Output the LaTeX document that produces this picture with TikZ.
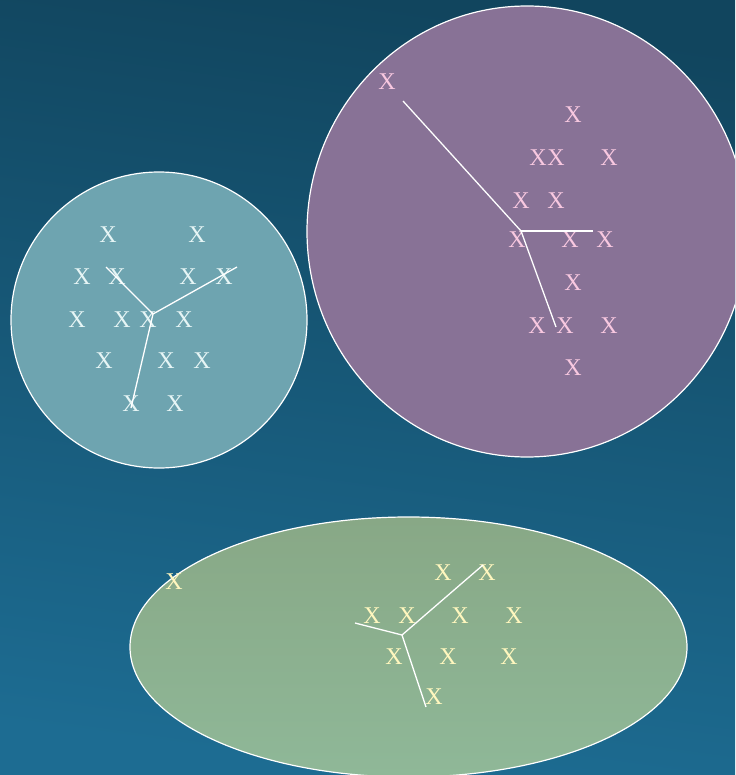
\documentclass[tikz,border=0pt]{standalone}
\usepackage{fontspec}
\setmainfont{Liberation Serif}
\definecolor{bgtop}{RGB}{17,69,94}
\definecolor{bgbot}{RGB}{29,108,146}
\definecolor{tealfill}{RGB}{110,164,176}
\definecolor{purpfill}{RGB}{136,114,150}
\definecolor{greentop}{RGB}{136,168,134}
\definecolor{greenbot}{RGB}{143,184,152}
\definecolor{xteal}{RGB}{230,245,245}
\definecolor{xpink}{RGB}{248,200,224}
\definecolor{xyellow}{RGB}{255,247,190}
\tikzset{
  xmark/.style={inner sep=0pt, font=\fontsize{24}{24}\selectfont},
  xt/.style={xmark, text=xteal},
  xp/.style={xmark, text=xpink},
  xy/.style={xmark, text=xyellow},
  rim/.style={draw=white, line width=1.2pt},
  spoke/.style={draw=white, line width=1.3pt},
}
\begin{document}
\begin{tikzpicture}[x=1pt,y=-1pt]
\useasboundingbox (0,0) rectangle (735,775);
\shade[top color=bgtop, bottom color=bgbot, shading angle=-8] (0,0) rectangle (735,775);
% shapes
\begin{scope}
\clip (0,0) rectangle (735,775);
\path[rim, fill=tealfill] (159,320) circle[radius=148];
\path[rim, fill=purpfill] (527,231.5) ellipse[x radius=220, y radius=225.5];
\shade[top color=greentop, bottom color=greenbot] (408.5,647) ellipse[x radius=278.5, y radius=130];
\path[rim] (408.5,647) ellipse[x radius=278.5, y radius=130];
\end{scope}
% teal cluster
\node[xt] (t1) at (108,235) {X};
\node[xt] (t2) at (197,235) {X};
\node[xt] (t3) at (82,277) {X};
\node[xt] (t4) at (117,277) {X};
\node[xt] (t5) at (188,277) {X};
\node[xt] (t6) at (224,277) {X};
\node[xt] (t7) at (77,320) {X};
\node[xt] (t8) at (122,320) {X};
\node[xt] (t9) at (148,320) {X};
\node[xt] (t10) at (184,320) {X};
\node[xt] (t11) at (104,361) {X};
\node[xt] (t12) at (166,361) {X};
\node[xt] (t13) at (202,361) {X};
\node[xt] (t14) at (131,404) {X};
\node[xt] (t15) at (175,404) {X};
\coordinate (th) at (153,314);
\coordinate (te1) at (106,267);
\coordinate (te2) at (237,267);
\coordinate (te3) at (131,408);
\draw[spoke] (th) -- (te1);
\draw[spoke] (th) -- (te2);
\draw[spoke] (th) -- (te3);
% purple cluster
\node[xp] (p1) at (387,82) {X};
\node[xp] (p2) at (573,115) {X};
\node[xp] (p3) at (538,158) {X};
\node[xp] (p4) at (556,158) {X};
\node[xp] (p5) at (609,158) {X};
\node[xp] (p6) at (521,201) {X};
\node[xp] (p7) at (556,201) {X};
\node[xp] (p8) at (517,240) {X};
\node[xp] (p9) at (570,240) {X};
\node[xp] (p10) at (605,240) {X};
\node[xp] (p11) at (573,283) {X};
\node[xp] (p12) at (537,326) {X};
\node[xp] (p13) at (565,326) {X};
\node[xp] (p14) at (609,326) {X};
\node[xp] (p15) at (573,368) {X};
\coordinate (ph) at (521,231);
\coordinate (pe1) at (403,101);
\coordinate (pe2) at (593,231);
\coordinate (pe3) at (556,327);
\draw[spoke] (ph) -- (pe1);
\draw[spoke] (ph) -- (pe2);
\draw[spoke] (ph) -- (pe3);
% green cluster
\node[xy] (g1) at (174,582) {X};
\node[xy] (g2) at (443,573) {X};
\node[xy] (g3) at (487,573) {X};
\node[xy] (g4) at (372,616) {X};
\node[xy] (g5) at (407,616) {X};
\node[xy] (g6) at (460,616) {X};
\node[xy] (g7) at (514,616) {X};
\node[xy] (g8) at (394,657) {X};
\node[xy] (g9) at (448,657) {X};
\node[xy] (g10) at (509,657) {X};
\node[xy] (g11) at (434,697) {X};
\coordinate (gh) at (402,635);
\coordinate (ge1) at (483,565);
\coordinate (ge2) at (355,623);
\coordinate (ge3) at (426,707);
\draw[spoke] (gh) -- (ge1);
\draw[spoke] (gh) -- (ge2);
\draw[spoke] (gh) -- (ge3);
\end{tikzpicture}
\end{document}
